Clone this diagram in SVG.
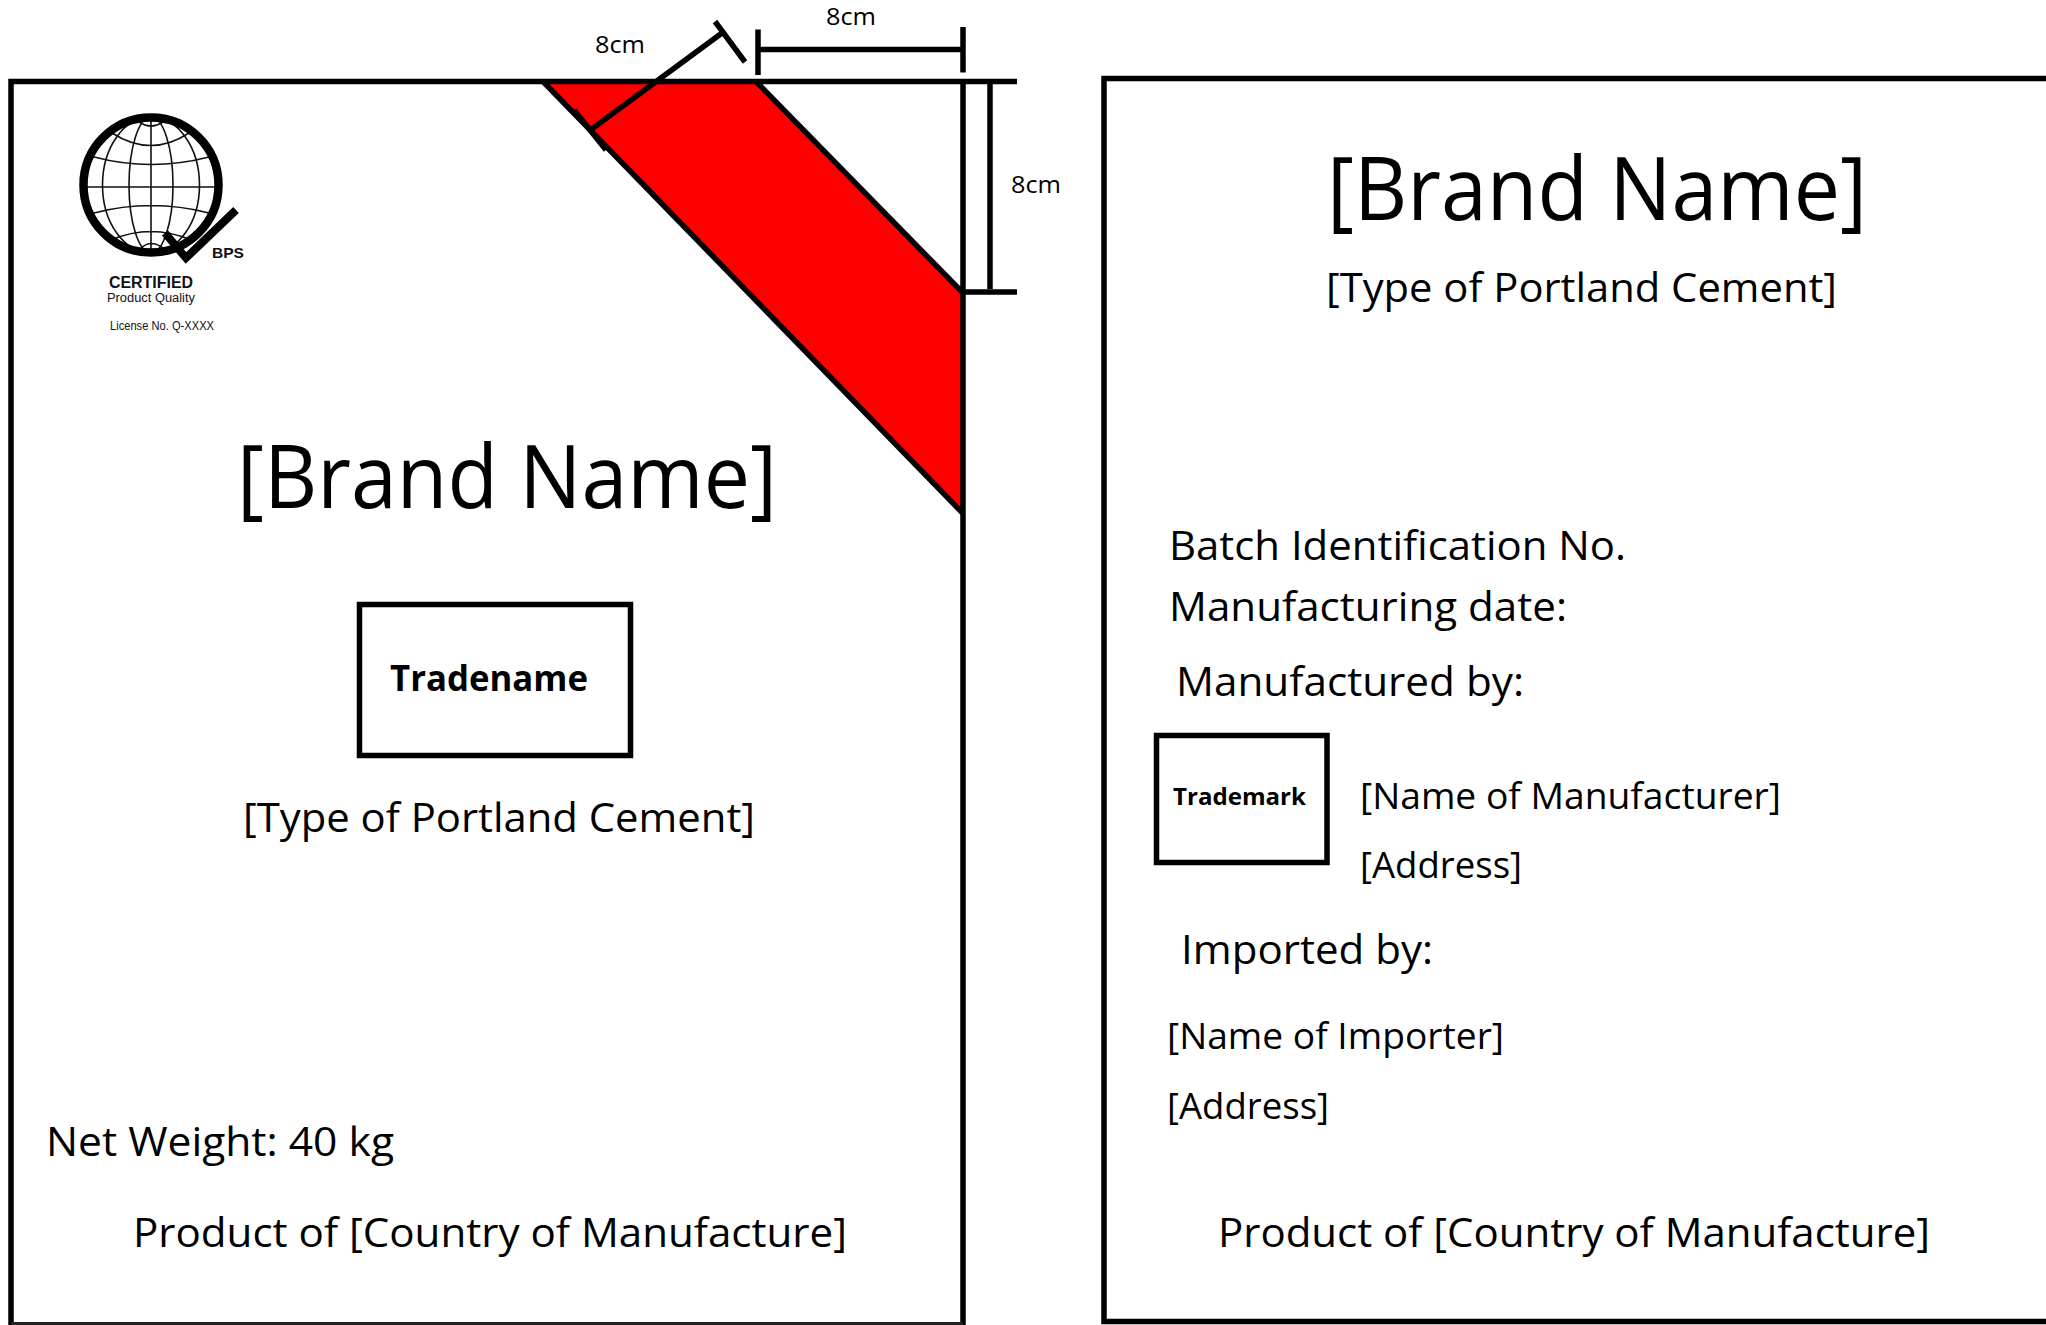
<svg xmlns="http://www.w3.org/2000/svg" width="2046" height="1325" viewBox="0 0 2046 1325">
<style>
.t{font-family:"Open Sans","Noto Sans","Liberation Sans",sans-serif;fill:#000}
.b{font-weight:700}
.s8{font-size:23px}
.s36{font-size:36px}
.s40{font-size:40px}
.s41{font-size:41px}
.s88{font-size:88px}
.a{font-family:"Liberation Sans",Arial,sans-serif;fill:#111}
.l{stroke:#000;stroke-width:5.500;fill:none}
.g{stroke:#111;stroke-width:1.600;fill:none}
</style>
<rect width="2046" height="1325" fill="#fff"/>
<g id="left-panel">
<path d="M543 81.500H756L963 293V513.500Z" fill="#f00"/>
<path class="l" d="M11 1325V81.500H1017M543 81.500L963 513.500M756 81.500L963 293M963 81V1325M963 292H1017"/>
<path d="M11 1323.500H963" stroke="#222" stroke-width="3"/>
</g>
<g id="dimension-lines">
<path class="l" d="M758 29.500V75M758 49.500H961M963 27V72.500M990 83V289M591 129.500L722 33M715 21.500L745 62M574 110L606 150"/>
<text class="t s8" x="595" y="53" textLength="50" lengthAdjust="spacingAndGlyphs">8cm</text>
<text class="t s8" x="826" y="25" textLength="50" lengthAdjust="spacingAndGlyphs">8cm</text>
<text class="t s8" x="1011" y="193" textLength="50" lengthAdjust="spacingAndGlyphs">8cm</text>
</g>
<g id="certification-mark">
<ellipse class="g" cx="151" cy="185" rx="22" ry="68"/>
<ellipse class="g" cx="151" cy="185" rx="48.500" ry="68"/>
<path class="g" d="M151 117V253M84 187H218M94 157Q151 172 209 157M112 133Q151 158 189 133M94 213Q151 198 209 213M111 240Q151 223 191 240M139 122Q151 130 163 122M141 248Q151 239 163 248"/>
<circle cx="151" cy="185" r="67.500" fill="none" stroke="#000" stroke-width="8.500"/>
<path d="M165 233L186 258L236 210" fill="none" stroke="#000" stroke-width="8"/>
<text class="a b" x="212" y="258" font-size="15" textLength="32" lengthAdjust="spacingAndGlyphs">BPS</text>
<text class="a b" x="109" y="288" font-size="16" textLength="84" lengthAdjust="spacingAndGlyphs">CERTIFIED</text>
<text class="a" x="107" y="302" font-size="12" textLength="88" lengthAdjust="spacingAndGlyphs">Product Quality</text>
<text class="a" x="110" y="330" font-size="12" textLength="104" lengthAdjust="spacingAndGlyphs">License No. Q-XXXX</text>
</g>
<g id="front-text">
<text class="t s88" x="237" y="508" textLength="540" lengthAdjust="spacingAndGlyphs">[Brand Name]</text>
<text class="t s40" x="243" y="832" textLength="512" lengthAdjust="spacingAndGlyphs">[Type of Portland Cement]</text>
<text class="t s41" x="46" y="1156" textLength="348" lengthAdjust="spacingAndGlyphs">Net Weight: 40 kg</text>
<text class="t s41" x="133" y="1247" textLength="714" lengthAdjust="spacingAndGlyphs">Product of [Country of Manufacture]</text>
</g>
<g id="tradename-box">
<rect class="l" x="359.500" y="604.500" width="271" height="151"/>
<text class="t b s36" x="390" y="691" textLength="198" lengthAdjust="spacingAndGlyphs">Tradename</text>
</g>
<g id="right-panel">
<path class="l" d="M2046 78.500H1104V1321.500H2046"/>
<text class="t s88" x="1327" y="220" textLength="540" lengthAdjust="spacingAndGlyphs">[Brand Name]</text>
<text class="t s40" x="1326" y="302" textLength="511" lengthAdjust="spacingAndGlyphs">[Type of Portland Cement]</text>
<text class="t s41" x="1169" y="560" textLength="457" lengthAdjust="spacingAndGlyphs">Batch Identification No.</text>
<text class="t s41" x="1169" y="621" textLength="398" lengthAdjust="spacingAndGlyphs">Manufacturing date:</text>
<text class="t s41" x="1176" y="696" textLength="348" lengthAdjust="spacingAndGlyphs">Manufactured by:</text>
<text class="t s36" x="1360" y="809" textLength="421" lengthAdjust="spacingAndGlyphs">[Name of Manufacturer]</text>
<text class="t s36" x="1360" y="878" textLength="162" lengthAdjust="spacingAndGlyphs">[Address]</text>
<text class="t s41" x="1181" y="964" textLength="252" lengthAdjust="spacingAndGlyphs">Imported by:</text>
<text class="t s36" x="1167" y="1049" textLength="337" lengthAdjust="spacingAndGlyphs">[Name of Importer]</text>
<text class="t s36" x="1167" y="1119" textLength="162" lengthAdjust="spacingAndGlyphs">[Address]</text>
<text class="t s41" x="1218" y="1247" textLength="712" lengthAdjust="spacingAndGlyphs">Product of [Country of Manufacture]</text>
</g>
<g id="trademark-box">
<rect class="l" x="1156.500" y="735.500" width="170.500" height="127"/>
<text class="t b" font-size="24" x="1173" y="805" textLength="133" lengthAdjust="spacingAndGlyphs">Trademark</text>
</g>
</svg>
